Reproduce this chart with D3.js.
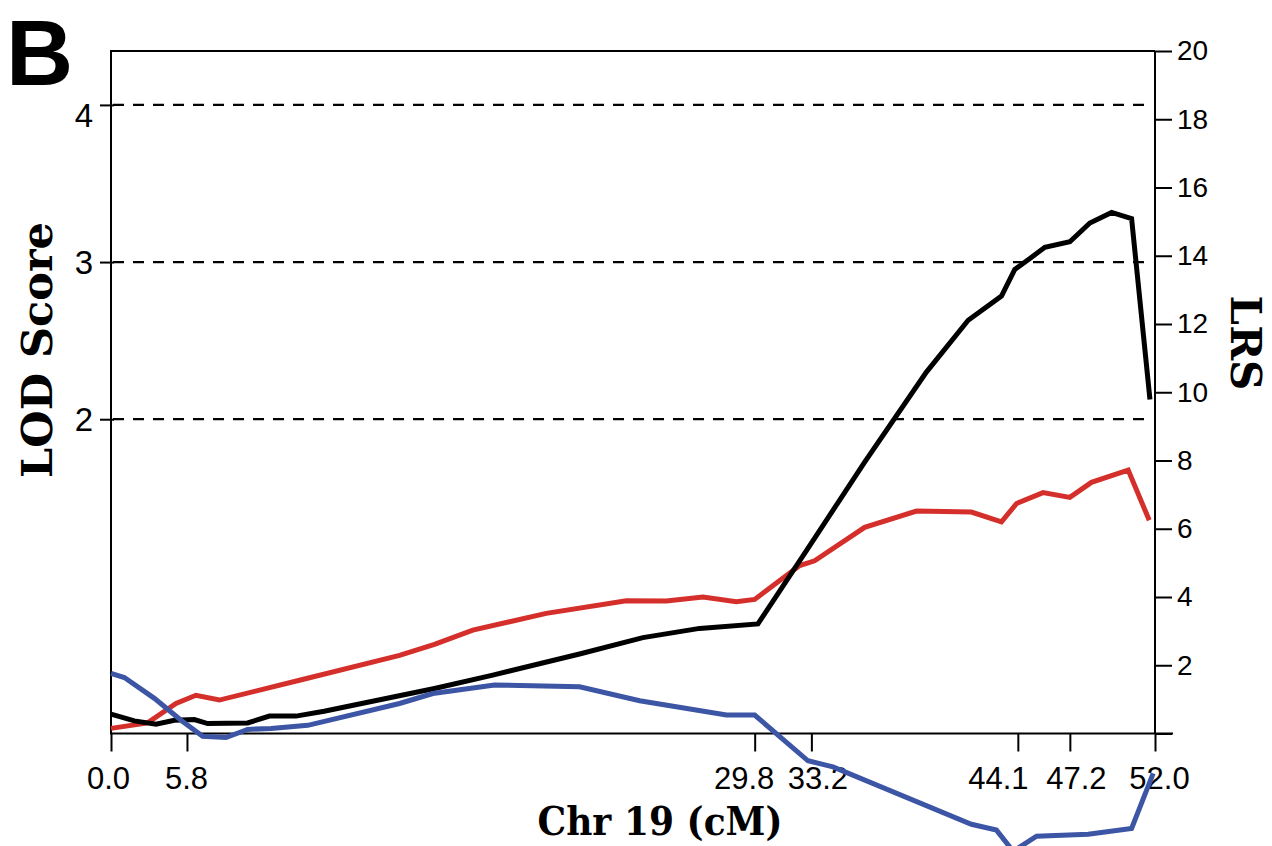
<!DOCTYPE html>
<html>
<head>
<meta charset="utf-8">
<script src="https://cdn.jsdelivr.net/npm/d3@7"></script>
<style>
  html, body { margin: 0; padding: 0; background: #fff; }
  svg { display: block; }
</style>
</head>
<body>
<svg id="chart" width="1272" height="846"></svg>
<script>
// ---------------- data ----------------
// marker tick positions along chromosome (physical position, Mb) and their cM labels
const tickPos = [0, 4.22, 35.76, 38.91, 50.38, 53.27, 58.0];
const tickCM = ["0.0", "5.8", "29.8", "33.2", "44.1", "47.2", "52.0"];
const chrLength = 58.0;

const lrsTicks = [0, 2, 4, 6, 8, 10, 12, 14, 16, 18, 20];
const lodTicks = [2, 3, 4];
const LRS_PER_LOD = 4.605;

// black series (LRS)
const blackPos = [0, 1.30, 2.50, 3.52, 4.63, 5.37, 7.59, 8.80, 10.28, 11.84, 17.97, 21.21, 26.03, 29.55, 32.70, 35.94,
  38.81, 41.87, 45.30, 47.62, 49.47, 50.21, 51.05, 51.88, 53.27, 54.38, 55.59, 56.70, 57.72];
const blackLRS = [0.57, 0.37, 0.27, 0.39, 0.41, 0.29, 0.31, 0.51, 0.51, 0.65, 1.32, 1.71, 2.33, 2.81, 3.08, 3.21,
  5.50, 7.95, 10.59, 12.11, 12.82, 13.60, 13.92, 14.25, 14.41, 14.96, 15.27, 15.09, 9.79];

// red series (LRS)
const redPos = [0, 2.03, 3.61, 4.72, 6.02, 10.47, 16.03, 17.97, 20.10, 24.18, 28.63, 30.85, 32.89, 34.74, 35.76,
  38.26, 39.09, 41.87, 44.75, 47.80, 49.47, 50.31, 51.78, 53.27, 54.47, 56.51, 57.68];
const redLRS = [0.15, 0.31, 0.88, 1.12, 0.98, 1.56, 2.29, 2.61, 3.03, 3.52, 3.89, 3.88, 4.00, 3.86, 3.93,
  4.92, 5.06, 6.04, 6.52, 6.49, 6.20, 6.74, 7.06, 6.92, 7.36, 7.72, 6.25];

// blue series (LRS)
const bluePos = [0, 0.74, 2.41, 3.89, 5.09, 6.39, 7.59, 8.89, 10.93, 16.03, 17.88, 21.31, 26.03, 29.37, 34.19, 35.76,
  38.72, 40.11, 47.80, 49.19, 50.12, 51.42, 54.29, 56.70, 57.90];
const blueLRS = [1.76, 1.64, 1.03, 0.39, -0.08, -0.12, 0.12, 0.15, 0.24, 0.88, 1.17, 1.42, 1.37, 0.96, 0.54, 0.54,
  -0.80, -0.98, -2.66, -2.83, -3.45, -3.01, -2.95, -2.78, -1.17];

// ---------------- layout ----------------
const svg = d3.select("#chart");
const L = 111, R = 1155, T = 51, B = 733.5;

const x = d3.scaleLinear().domain([0, chrLength]).range([L, R]);
const y = d3.scaleLinear().domain([0, 20]).range([B, T]);
const yLod = d3.scaleLinear().domain([0, 20 / LRS_PER_LOD]).range([B, T]);

const sans = "'Liberation Sans', Arial, Helvetica, sans-serif";
const serif = "'DejaVu Serif', 'Liberation Serif', serif";

// horizontal nudges of crowded bottom tick labels (pixels), by label
const labelNudge = { "0.0": -3, "5.8": -1, "29.8": -11, "33.2": 6, "44.1": -20, "47.2": 6, "52.0": 4 };

// dashed LOD threshold lines
svg.append("g").selectAll("line").data(lodTicks).join("line")
  .attr("x1", L + 2).attr("x2", 1146)
  .attr("y1", d => yLod(d)).attr("y2", d => yLod(d))
  .attr("stroke", "#000").attr("stroke-width", 2.2)
  .attr("stroke-dasharray", "11,9");

// frame
const frame = svg.append("g").attr("stroke", "#000").attr("stroke-width", 2).attr("fill", "none");
frame.append("line").attr("x1", L - 1).attr("x2", R).attr("y1", T).attr("y2", T);
frame.append("line").attr("x1", L).attr("x2", L).attr("y1", T).attr("y2", B);
frame.append("line").attr("x1", L - 1).attr("x2", R + 18).attr("y1", B).attr("y2", B);

// left LOD axis
const gl = svg.append("g").attr("transform", `translate(${L},0)`)
  .call(d3.axisLeft(yLod).tickValues(lodTicks).tickSize(11).tickPadding(7).tickFormat(d3.format("d")));
gl.select(".domain").remove();
gl.selectAll(".tick line").attr("stroke-width", 2).attr("x2", -11).attr("x1", 3);
gl.selectAll(".tick text").attr("font-family", sans).attr("font-size", 33).attr("fill", "#000")
  .attr("dy", d => d === 4 ? "0.65em" : "0.34em");

// right LRS axis
const gr = svg.append("g").attr("transform", `translate(${R},0)`)
  .call(d3.axisRight(y).tickValues(lrsTicks).tickSize(17).tickPadding(5).tickFormat(d => d === 0 ? "" : d));
gr.select(".domain").attr("stroke-width", 2).attr("d", `M0,${T}V${B}`);
gr.selectAll(".tick line").attr("stroke-width", 2);
gr.selectAll(".tick text").attr("font-family", sans).attr("font-size", 28).attr("fill", "#000");

// bottom cM axis
const gb = svg.append("g").attr("transform", `translate(0,${B})`)
  .call(d3.axisBottom(x).tickValues(tickPos).tickSize(18).tickPadding(15).tickFormat((d, i) => tickCM[i]));
gb.select(".domain").remove();
gb.selectAll(".tick line").attr("stroke-width", 2);
gb.selectAll(".tick text").attr("font-family", sans).attr("font-size", 31).attr("fill", "#000")
  .attr("dx", function () { return labelNudge[this.textContent] || 0; });

// series lines
const series = [
  { pos: redPos, val: redLRS, color: "#d42f2a" },
  { pos: blackPos, val: blackLRS, color: "#000000" },
  { pos: bluePos, val: blueLRS, color: "#3c55a5" }
];
const line = d3.line().x(d => x(d[0])).y(d => y(d[1]));
svg.append("g").selectAll("path").data(series).join("path")
  .attr("d", s => line(s.pos.map((p, i) => [p, s.val[i]])))
  .attr("fill", "none")
  .attr("stroke", s => s.color)
  .attr("stroke-width", 5)
  .attr("stroke-linejoin", "miter")
  .attr("stroke-linecap", "butt");

// titles
svg.append("text").text("B")
  .attr("x", 6).attr("y", 85)
  .attr("font-family", sans).attr("font-weight", "bold").attr("font-size", 93).attr("fill", "#000");

svg.append("text").text("LOD Score")
  .attr("transform", "translate(52,350) rotate(-90)")
  .attr("text-anchor", "middle")
  .attr("font-family", serif).attr("font-weight", "bold").attr("font-size", 43).attr("fill", "#000");

svg.append("text").text("LRS")
  .attr("transform", "translate(1231,343) rotate(90)")
  .attr("text-anchor", "middle")
  .attr("font-family", serif).attr("font-weight", "bold").attr("font-size", 42).attr("fill", "#000");

svg.append("text").text("Chr 19 (cM)")
  .attr("x", 660).attr("y", 835)
  .attr("text-anchor", "middle")
  .attr("textLength", 245).attr("lengthAdjust", "spacingAndGlyphs")
  .attr("font-family", serif).attr("font-weight", "bold").attr("font-size", 40).attr("fill", "#000");
</script>
</body>
</html>
